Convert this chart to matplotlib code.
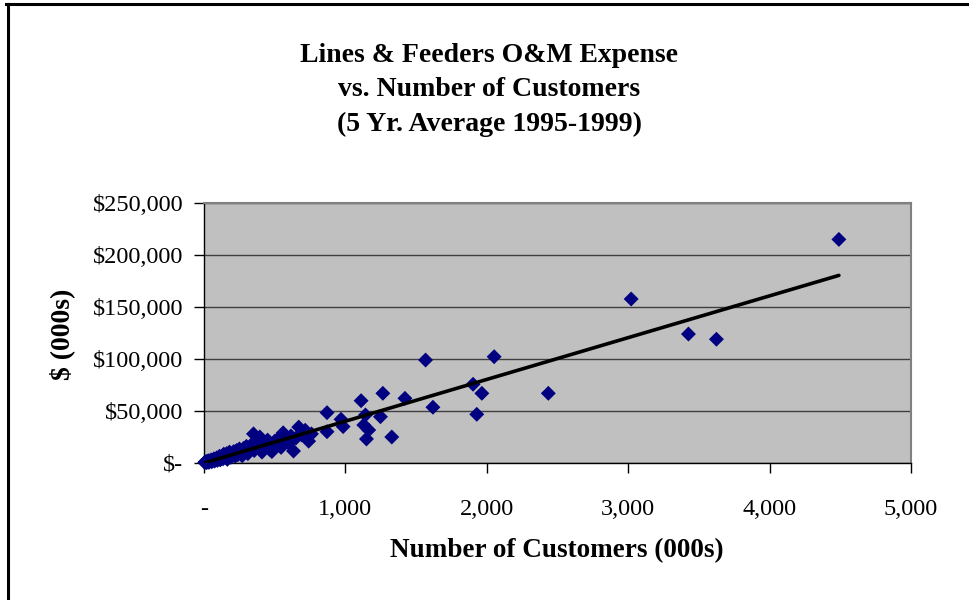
import matplotlib.pyplot as plt
from matplotlib.lines import Line2D
from matplotlib.ticker import FuncFormatter

# customers (000s) vs lines & feeders O&M expense ($000s)
customers = [5, 10, 15, 20, 25, 30, 35, 40, 50, 55, 60, 70, 75, 80, 90, 95,
             100, 110, 115, 120, 130, 135, 140, 150, 160, 165, 175, 180, 190,
             200, 210, 220, 230, 240, 250, 260, 270, 280, 290, 300, 310, 320,
             335, 350, 355, 370, 385, 395, 410, 420, 440, 450, 465, 480, 500,
             510, 530, 545, 560, 580, 598, 615, 633, 650, 670, 690, 716, 740,
             760, 870, 969, 984, 870, 1111, 1265, 1421, 1619, 1142, 1248, 1130,
             1165, 1149, 1328, 1567, 1903, 1965, 1929, 2052, 2435, 3021, 3426,
             3624, 4490]
expense = [500, 1200, 300, 1500, 900, 2200, 600, 1800, 3000, 1200, 2500, 4000,
           1800, 3500, 5000, 2500, 4200, 6500, 3000, 5200, 7000, 4000, 8500,
           6000, 9000, 3500, 7500, 10500, 5500, 9000, 11000, 6500, 12000, 8000,
           13500, 10000, 7000, 14000, 11500, 16000, 9000, 13000, 17500, 28000,
           12000, 19000, 15000, 25000, 10500, 20000, 16500, 22000, 13000, 11000,
           21000, 17500, 24000, 15000, 29000, 21000, 19000, 26000, 11500, 24000,
           34500, 27000, 31500, 21000, 28000, 48400, 42000, 35000, 30100, 59900,
           67000, 62200, 53600, 46200, 44500, 36500, 31700, 23100, 25000, 99000,
           75700, 67000, 46800, 102200, 67000, 157700, 124000, 119000, 215000]

# linear trend line as drawn on the chart
trend_x = [10, 4490]
trend_y = [400, 180400]

x_ticks = [0, 1000, 2000, 3000, 4000, 5000]
y_ticks = [0, 50000, 100000, 150000, 200000, 250000]

serif = ['Liberation Serif', 'DejaVu Serif']
plt.rcParams['font.family'] = serif

fig = plt.figure(figsize=(9.69, 6), dpi=100)
ax = fig.add_axes([204 / 969, 1 - 463 / 600, 707 / 969, 260 / 600])

ax.set_facecolor('#C0C0C0')
ax.scatter(customers, expense, marker='D', s=58, color='#000080',
           edgecolors='none', zorder=3, clip_on=False)
ax.plot(trend_x, trend_y, color='black', lw=2.6, zorder=4,
        solid_capstyle='round')

ax.set_xlim(0, 5000)
ax.set_ylim(0, 250000)
ax.set_xticks(x_ticks)
ax.set_yticks(y_ticks)
ax.xaxis.set_major_formatter(FuncFormatter(lambda v, p: '-' if v == 0 else f'{v:,.0f}'))
ax.yaxis.set_major_formatter(FuncFormatter(lambda v, p: '$-' if v == 0 else f'${v:,.0f}'))
ax.tick_params(axis='both', direction='out', length=7, width=1, labelsize=17.5,
               color='black')
ax.tick_params(axis='y', pad=8)
ax.tick_params(axis='x', pad=19)

ax.yaxis.grid(True, color='#404040', lw=1)
ax.set_axisbelow(True)
for side in ['top', 'right']:
    ax.spines[side].set_color('#808080')
    ax.spines[side].set_linewidth(1.5)
for side in ['left', 'bottom']:
    ax.spines[side].set_color('black')
    ax.spines[side].set_linewidth(1)

fig.text(489 / 969, 1 - 90 / 600,
         'Lines & Feeders O&M Expense\nvs. Number of Customers\n(5 Yr. Average 1995-1999)',
         ha='center', va='center', fontsize=20, fontweight='bold',
         linespacing=1.5)
fig.text(557 / 969, 1 - 551 / 600, 'Number of Customers (000s)',
         ha='center', va='center', fontsize=19.5, fontweight='bold')
fig.text(62 / 969, 1 - 334 / 600, '$ (000s)', rotation=90,
         ha='center', va='center', fontsize=20, fontweight='bold')

# frame lines at left and top edge
fig.add_artist(Line2D([7.5 / 969, 7.5 / 969], [0, 1 - 3.5 / 600],
                      transform=fig.transFigure, color='black', lw=2.2))
fig.add_artist(Line2D([6 / 969, 1], [1 - 3.5 / 600, 1 - 3.5 / 600],
                      transform=fig.transFigure, color='black', lw=2.2))

fig.savefig('out.png', dpi=100)
